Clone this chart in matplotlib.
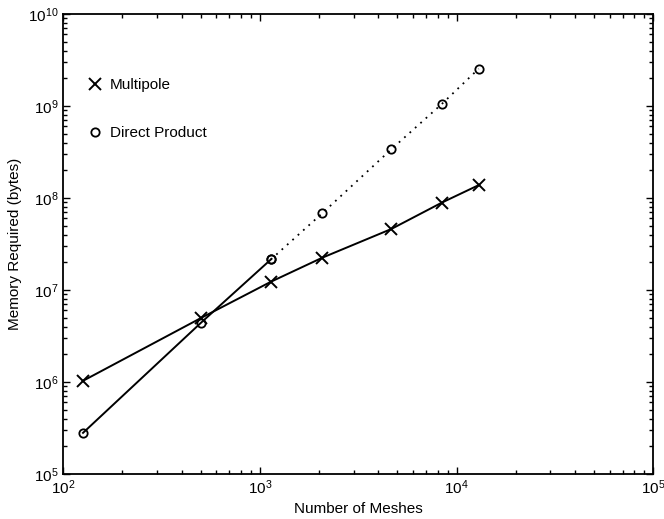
import matplotlib
matplotlib.use("Agg")
import matplotlib.pyplot as plt
from matplotlib.lines import Line2D
from matplotlib.ticker import LogLocator

plt.rcParams['font.family'] = ['Liberation Sans', 'DejaVu Sans']
plt.rcParams['mathtext.fontset'] = 'custom'
plt.rcParams['mathtext.rm'] = 'Liberation Sans'

# Problem size (number of meshes) and memory use of the two methods
meshes = [126, 501, 1137, 2070, 4650, 8400, 12940]
multipole_bytes = [1.03e6, 4.96e6, 1.23e7, 2.24e7, 4.6e7, 8.9e7, 1.38e8]
direct_bytes = [2.8e5, 4.4e6, 2.15e7, 6.8e7, 3.38e8, 1.05e9, 2.54e9]
# Direct product was measured up to this index; beyond it is extrapolated
direct_measured = 3

fig = plt.figure(figsize=(6.64, 5.19), dpi=100)
ax = fig.add_axes([0.0953, 0.0867, 0.8886, 0.8863])

ax.plot(meshes, multipole_bytes, color='k', lw=1.4, marker='x',
        ms=8, mew=1.4)
ax.plot(meshes[:direct_measured], direct_bytes[:direct_measured],
        color='k', lw=1.4, marker='o', ms=6, mew=1.3, mfc='none')
ax.plot(meshes[direct_measured - 1:], direct_bytes[direct_measured - 1:],
        color='k', lw=1.3, ls=(0, (1, 3)), marker='o', ms=6, mew=1.3,
        mfc='none')

ax.set_xscale('log')
ax.set_yscale('log')
ax.set_xlim(1e2, 1e5)
ax.set_ylim(1e5, 1e10)

for axis in (ax.xaxis, ax.yaxis):
    axis.set_major_locator(LogLocator(base=10))
    axis.set_minor_locator(LogLocator(base=10, subs=range(2, 10)))

ax.tick_params(which='both', direction='in', top=True, right=True,
               labelsize=11, width=1.0)
ax.tick_params(which='major', length=5)
ax.tick_params(which='minor', length=3)
for sp in ax.spines.values():
    sp.set_linewidth(1.3)

ax.set_xlabel('Number of Meshes', fontsize=11, labelpad=3)
ax.set_ylabel('Memory Required (bytes)', fontsize=11, labelpad=4)

handles = [
    Line2D([], [], color='k', ls='none', marker='x', ms=8, mew=1.4),
    Line2D([], [], color='k', ls='none', marker='o', ms=6, mew=1.3,
           mfc='none'),
]
ax.legend(handles, ['Multipole', 'Direct Product'], loc='upper left',
          bbox_to_anchor=(0.02, 0.89), frameon=False, fontsize=11,
          handlelength=0.8, handletextpad=0.6, labelspacing=2.2)

fig.savefig('out.png', dpi=100)
